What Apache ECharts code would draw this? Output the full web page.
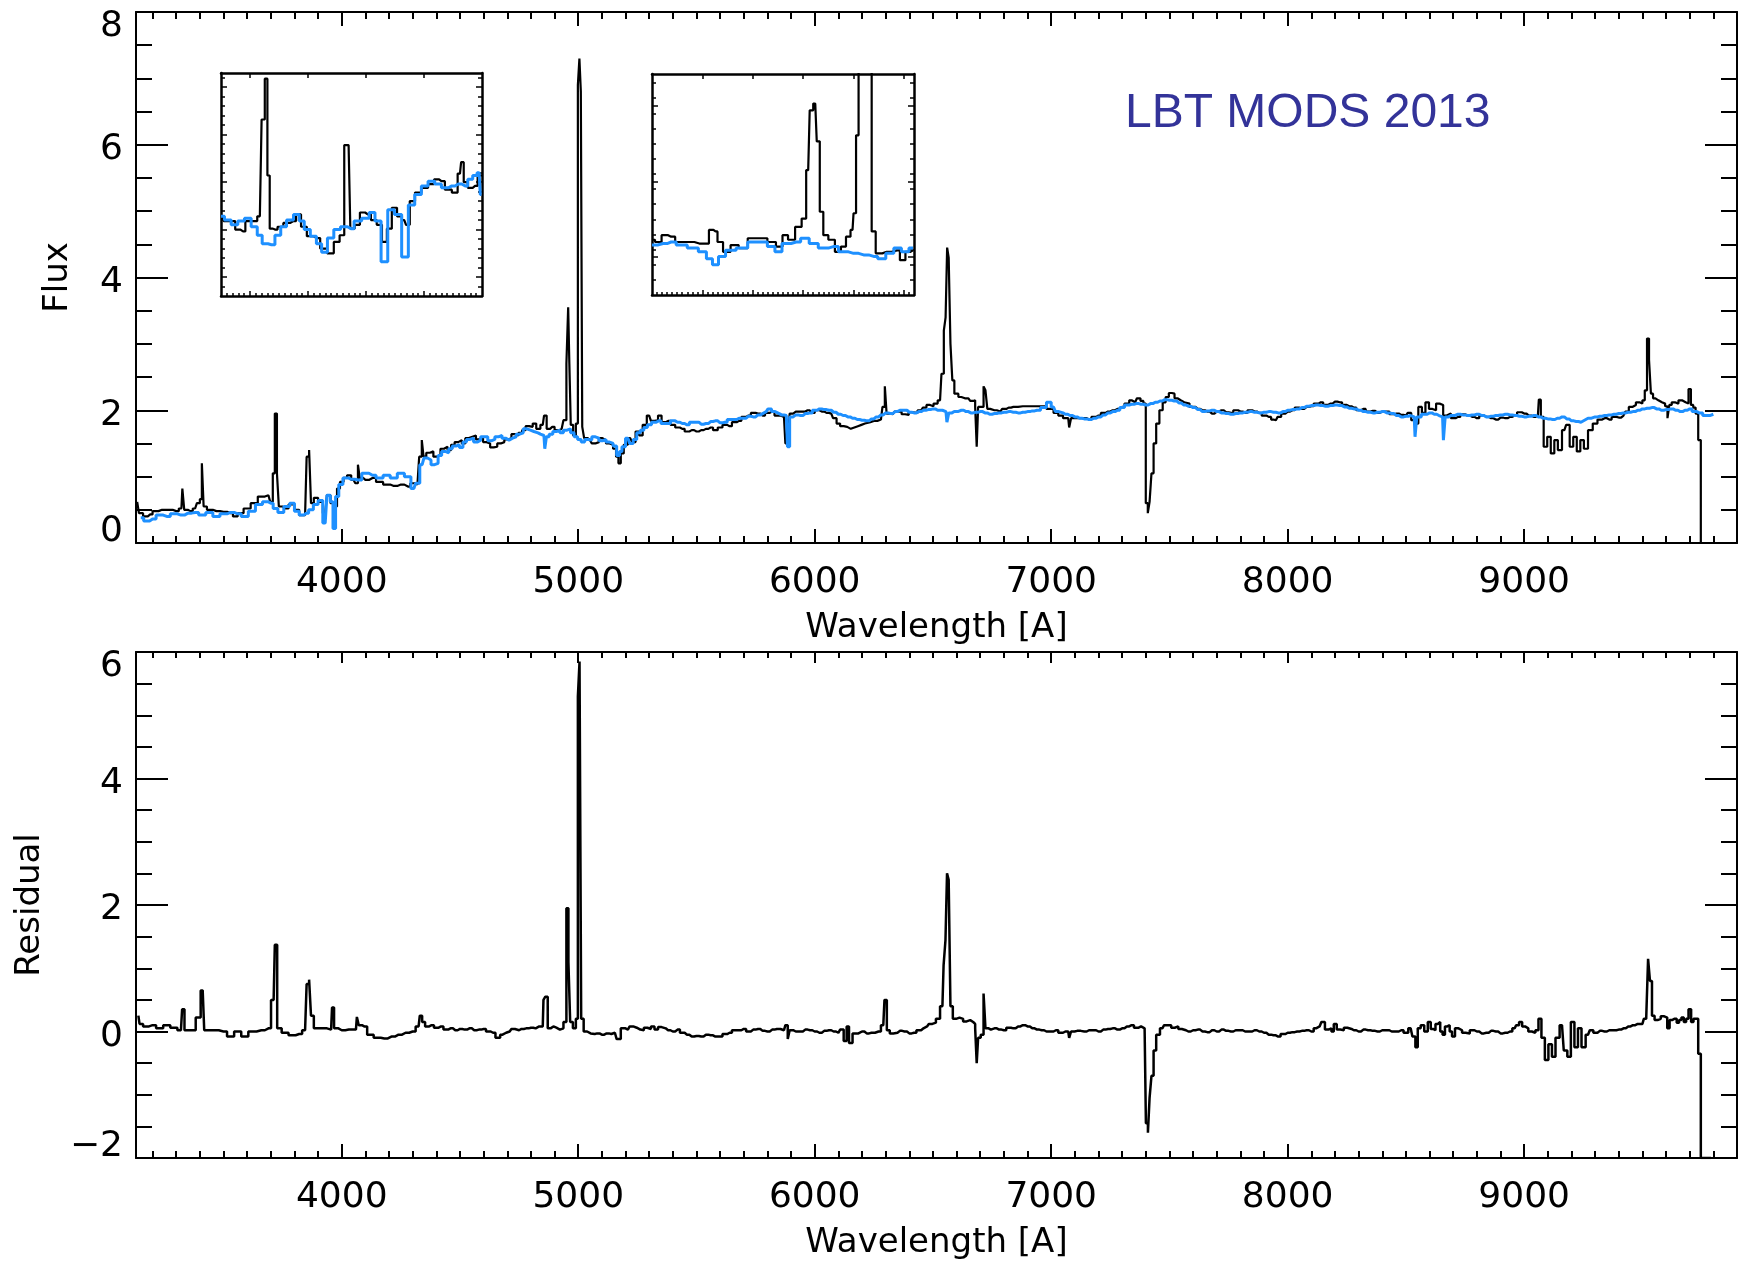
<!DOCTYPE html>
<html>
<head>
<meta charset="utf-8">
<script src="https://cdn.jsdelivr.net/npm/echarts@6/dist/echarts.min.js"></script>
<style>
  html, body { margin: 0; padding: 0; background: #fff; }
  #chart { width: 1749px; height: 1266px; }
</style>
</head>
<body>
<div id="chart"></div>
<script>
// ---- tick labels ----
const waveTicks = [4000, 5000, 6000, 7000, 8000, 9000];
const fluxTicks = [0, 2, 4, 6, 8];
const residualTicks = [-2, 0, 2, 4, 6];
const inset1WaveTicks = [3700, 3800, 3900, 4000];
const inset2WaveTicks = [4850, 4900, 4950, 5000, 5050];

// ---- observed spectrum [wavelength (A), flux] ----
const observedFlux = [
  [3135,0.62],[3150,0.45],[3170,0.40],[3190,0.43],[3210,0.48],[3240,0.50],[3270,0.50],[3300,0.48],
  [3322,0.52],[3330,0.82],[3338,0.50],[3360,0.48],[3380,0.52],[3395,0.60],[3405,0.66],[3412,1.20],
  [3420,0.55],[3440,0.50],[3470,0.48],[3500,0.47],[3530,0.45],[3550,0.40],[3570,0.45],[3600,0.52],
  [3630,0.60],[3660,0.70],[3690,0.72],[3705,0.62],[3712,1.05],[3722,1.95],[3730,1.05],[3738,0.55],
  [3760,0.52],[3790,0.58],[3810,0.50],[3830,0.42],[3845,0.42],[3858,1.30],[3866,1.40],[3874,0.60],
  [3890,0.68],[3910,0.62],[3930,0.45],[3945,0.72],[3960,0.60],[3975,0.55],[3985,0.82],[4000,0.92],
  [4015,0.98],[4030,1.02],[4050,0.95],[4065,0.90],[4072,1.18],[4080,0.98],[4100,0.95],[4130,0.98],
  [4160,0.92],[4190,0.88],[4220,0.86],[4250,0.88],[4280,0.85],[4300,0.90],[4320,0.88],[4335,1.30],
  [4342,1.55],[4350,1.30],[4365,1.36],[4380,1.38],[4395,1.30],[4410,1.32],[4425,1.42],[4440,1.45],
  [4455,1.40],[4470,1.48],[4485,1.52],[4500,1.55],[4515,1.50],[4530,1.58],[4545,1.60],[4560,1.62],
  [4575,1.56],[4590,1.58],[4605,1.52],[4620,1.50],[4635,1.44],[4650,1.45],[4665,1.50],[4680,1.52],
  [4695,1.56],[4710,1.58],[4725,1.64],[4740,1.62],[4755,1.66],[4770,1.70],[4785,1.76],[4800,1.75],
  [4815,1.80],[4830,1.72],[4850,1.78],[4861,1.92],[4872,1.72],[4890,1.75],[4910,1.70],[4930,1.72],
  [4945,1.85],[4955,2.70],[4960,3.55],[4965,2.70],[4972,1.78],[4985,1.62],[4995,1.80],[5002,6.90],
  [5008,7.30],[5014,6.80],[5020,1.75],[5030,1.58],[5050,1.55],[5065,1.50],[5080,1.52],[5095,1.58],
  [5110,1.55],[5125,1.50],[5140,1.48],[5155,1.42],[5165,1.30],[5175,1.20],[5185,1.35],[5200,1.48],
  [5220,1.58],[5235,1.52],[5250,1.68],[5265,1.62],[5280,1.78],[5300,1.92],[5315,1.84],[5330,1.85],
  [5345,1.92],[5360,1.82],[5380,1.84],[5400,1.78],[5420,1.74],[5440,1.72],[5460,1.68],[5480,1.70],
  [5500,1.68],[5520,1.70],[5540,1.72],[5560,1.74],[5580,1.70],[5600,1.74],[5620,1.78],[5640,1.76],
  [5660,1.82],[5680,1.84],[5700,1.90],[5720,1.92],[5740,1.96],[5760,1.95],[5780,1.92],[5800,1.96],
  [5820,1.98],[5840,1.92],[5870,1.90],[5882,1.50],[5890,1.52],[5898,1.95],[5920,1.98],[5950,1.98],
  [5970,2.00],[5990,1.96],[6010,2.00],[6030,1.98],[6050,1.96],[6070,1.95],[6085,1.88],[6100,1.80],
  [6115,1.76],[6130,1.75],[6145,1.72],[6160,1.74],[6175,1.76],[6190,1.78],[6205,1.80],[6220,1.82],
  [6250,1.84],[6280,1.86],[6293,2.05],[6300,2.36],[6308,1.95],[6330,1.94],[6345,1.98],[6360,1.98],
  [6375,1.94],[6390,1.93],[6405,1.97],[6420,1.96],[6450,2.00],[6465,2.04],[6480,2.08],[6495,2.06],
  [6510,2.10],[6530,2.15],[6542,2.55],[6550,3.20],[6557,3.40],[6563,4.45],[6570,4.30],[6578,3.00],
  [6586,2.45],[6595,2.25],[6620,2.20],[6635,2.18],[6650,2.18],[6665,2.14],[6675,2.15],[6682,2.05],
  [6688,1.45],[6694,2.05],[6710,2.05],[6718,2.36],[6726,2.30],[6734,2.02],[6750,2.00],[6770,2.00],
  [6785,1.98],[6800,2.02],[6820,2.04],[6840,2.05],[6880,2.06],[6920,2.06],[6960,2.06],[7000,2.02],
  [7020,1.96],[7040,1.92],[7060,1.88],[7072,1.88],[7080,1.74],[7088,1.88],[7110,1.88],[7140,1.88],
  [7160,1.86],[7180,1.90],[7200,1.92],[7220,1.96],[7240,1.98],[7260,2.00],[7280,2.02],[7300,2.05],
  [7320,2.10],[7340,2.15],[7355,2.12],[7370,2.18],[7385,2.14],[7395,2.10],[7405,0.60],[7412,0.45],
  [7420,0.62],[7428,1.05],[7438,1.50],[7450,1.80],[7465,2.00],[7478,2.12],[7490,2.20],[7505,2.26],
  [7515,2.25],[7528,2.18],[7540,2.15],[7555,2.12],[7570,2.10],[7600,2.05],[7620,2.02],[7640,2.00],
  [7660,1.98],[7680,1.95],[7700,1.98],[7720,2.00],[7740,1.97],[7760,1.96],[7780,2.00],[7800,1.98],
  [7820,1.96],[7840,2.00],[7860,1.98],[7880,1.96],[7900,1.92],[7920,1.90],[7940,1.86],[7950,1.85],
  [7965,1.90],[7980,1.95],[8000,1.98],[8020,2.00],[8040,2.04],[8060,2.02],[8080,2.05],[8100,2.06],
  [8120,2.10],[8140,2.12],[8160,2.08],[8180,2.10],[8200,2.13],[8220,2.12],[8240,2.08],[8260,2.06],
  [8280,2.04],[8300,2.00],[8320,2.02],[8340,1.98],[8360,1.99],[8380,1.96],[8400,1.98],[8420,1.98],
  [8440,1.94],[8460,1.95],[8480,1.93],[8500,1.92],[8515,1.96],[8530,1.85],[8545,1.80],[8560,2.05],
  [8575,1.96],[8590,2.12],[8605,2.02],[8620,2.00],[8635,2.10],[8650,2.08],[8665,1.92],[8680,1.95],
  [8700,1.88],[8720,1.90],[8740,1.94],[8760,1.92],[8780,1.90],[8800,1.88],[8820,1.92],[8840,1.90],
  [8860,1.88],[8880,1.86],[8900,1.89],[8920,1.88],[8940,1.90],[8960,1.92],[8980,1.97],[9000,1.95],
  [9020,1.92],[9040,1.90],[9058,1.92],[9066,2.16],[9075,1.90],[9090,1.45],[9105,1.60],[9120,1.35],
  [9135,1.55],[9150,1.40],[9170,1.70],[9185,1.78],[9200,1.45],[9215,1.60],[9230,1.38],[9245,1.55],
  [9260,1.42],[9280,1.70],[9300,1.80],[9320,1.86],[9340,1.88],[9360,1.86],[9380,1.90],[9400,1.89],
  [9420,1.92],[9435,1.98],[9450,2.05],[9465,2.08],[9480,2.12],[9495,2.10],[9505,2.15],[9515,2.30],
  [9524,3.08],[9532,2.76],[9540,2.25],[9550,2.18],[9560,2.15],[9575,2.12],[9590,2.10],[9602,2.06],
  [9610,1.88],[9618,2.08],[9630,2.12],[9645,2.10],[9660,2.15],[9675,2.12],[9690,2.10],[9700,2.32],
  [9710,2.08],[9720,2.04],[9730,1.95],[9742,1.55],[9752,0.00],[9800,0.00]
];

// ---- model spectrum [wavelength (A), flux] ----
const modelFlux = [
  [3150,0.38],[3175,0.33],[3200,0.36],[3230,0.42],[3260,0.40],[3290,0.44],[3320,0.42],[3350,0.45],
  [3380,0.46],[3410,0.42],[3440,0.46],[3470,0.40],[3500,0.44],[3530,0.46],[3560,0.44],[3590,0.40],
  [3620,0.48],[3650,0.58],[3680,0.62],[3700,0.60],[3720,0.52],[3740,0.46],[3770,0.55],[3790,0.60],
  [3810,0.48],[3830,0.42],[3850,0.45],[3870,0.50],[3890,0.58],[3910,0.64],[3930,0.30],[3945,0.72],
  [3958,0.62],[3968,0.22],[3980,0.70],[3995,0.88],[4015,0.98],[4040,0.96],[4070,0.95],[4100,1.05],
  [4130,1.02],[4160,0.98],[4190,1.02],[4220,0.98],[4250,1.05],[4280,1.00],[4305,0.82],[4320,0.90],
  [4340,1.18],[4355,1.28],[4370,1.25],[4385,1.18],[4400,1.20],[4415,1.32],[4430,1.38],[4445,1.36],
  [4460,1.42],[4475,1.46],[4490,1.48],[4505,1.44],[4520,1.52],[4535,1.56],[4550,1.58],[4565,1.52],
  [4580,1.55],[4595,1.60],[4610,1.60],[4625,1.54],[4640,1.56],[4655,1.60],[4670,1.62],[4685,1.58],
  [4700,1.55],[4715,1.58],[4730,1.60],[4745,1.64],[4760,1.66],[4775,1.72],[4790,1.70],[4805,1.68],
  [4820,1.66],[4840,1.64],[4855,1.62],[4862,1.42],[4869,1.60],[4885,1.64],[4900,1.68],[4915,1.70],
  [4930,1.66],[4945,1.70],[4960,1.72],[4975,1.66],[4990,1.60],[5005,1.56],[5020,1.52],[5035,1.56],
  [5050,1.55],[5065,1.60],[5080,1.58],[5095,1.54],[5110,1.56],[5125,1.52],[5140,1.50],[5155,1.46],
  [5170,1.32],[5180,1.38],[5190,1.45],[5210,1.58],[5225,1.50],[5240,1.56],[5255,1.66],[5270,1.70],
  [5285,1.74],[5300,1.78],[5320,1.82],[5340,1.84],[5360,1.80],[5380,1.80],[5400,1.84],[5420,1.82],
  [5440,1.80],[5460,1.78],[5480,1.82],[5500,1.82],[5520,1.79],[5540,1.80],[5560,1.83],[5580,1.84],
  [5600,1.81],[5620,1.82],[5640,1.86],[5660,1.86],[5680,1.88],[5700,1.88],[5720,1.91],[5740,1.90],
  [5760,1.93],[5780,1.95],[5795,1.98],[5810,2.02],[5825,1.98],[5840,1.95],[5860,1.93],[5880,1.92],
  [5890,1.45],[5898,1.90],[5920,1.93],[5940,1.92],[5960,1.95],[5980,1.96],[6000,2.00],[6020,2.02],
  [6040,2.01],[6060,2.00],[6080,1.97],[6100,1.94],[6120,1.92],[6140,1.90],[6160,1.88],[6180,1.86],
  [6200,1.85],[6220,1.84],[6240,1.87],[6260,1.90],[6280,1.93],[6300,1.96],[6320,1.95],[6340,1.98],
  [6360,2.00],[6380,2.00],[6400,1.97],[6420,1.96],[6440,1.98],[6460,2.00],[6480,2.01],[6500,2.02],
  [6520,2.00],[6540,2.00],[6555,1.98],[6563,1.82],[6571,1.96],[6590,1.98],[6620,2.00],[6640,1.98],
  [6660,1.96],[6680,1.97],[6700,1.98],[6720,1.96],[6740,1.94],[6760,1.95],[6780,1.96],[6800,1.97],
  [6820,1.98],[6840,1.97],[6860,1.96],[6880,1.97],[6900,1.98],[6920,1.99],[6940,2.00],[6970,2.04],
  [6990,2.12],[7010,2.05],[7025,1.98],[7040,1.96],[7060,1.94],[7080,1.92],[7100,1.90],[7120,1.88],
  [7140,1.87],[7160,1.86],[7180,1.88],[7200,1.90],[7220,1.93],[7240,1.96],[7260,1.98],[7280,2.00],
  [7300,2.04],[7320,2.08],[7340,2.09],[7360,2.10],[7380,2.09],[7400,2.08],[7420,2.10],[7440,2.12],
  [7460,2.14],[7480,2.16],[7500,2.15],[7520,2.14],[7540,2.11],[7560,2.08],[7580,2.06],[7600,2.04],
  [7620,2.01],[7640,1.98],[7660,1.99],[7680,2.00],[7700,1.98],[7720,1.96],[7740,1.95],[7760,1.94],
  [7780,1.95],[7800,1.96],[7820,1.97],[7840,1.98],[7860,1.97],[7880,1.96],[7900,1.97],[7920,1.98],
  [7940,1.97],[7960,1.96],[7980,1.98],[8000,2.00],[8020,2.01],[8040,2.02],[8060,2.04],[8080,2.06],
  [8100,2.07],[8120,2.08],[8140,2.07],[8160,2.06],[8180,2.07],[8200,2.08],[8220,2.07],[8240,2.05],
  [8260,2.03],[8280,2.02],[8300,2.00],[8320,1.98],[8340,1.97],[8360,1.96],[8380,1.97],[8400,1.98],
  [8420,1.96],[8440,1.95],[8460,1.92],[8480,1.90],[8500,1.91],[8520,1.92],[8535,1.90],[8542,1.60],
  [8550,1.90],[8580,1.94],[8600,1.96],[8620,1.94],[8640,1.92],[8655,1.90],[8662,1.55],[8670,1.90],
  [8690,1.92],[8720,1.94],[8740,1.93],[8760,1.92],[8780,1.93],[8800,1.94],[8820,1.92],[8840,1.90],
  [8860,1.91],[8880,1.92],[8900,1.93],[8920,1.94],[8940,1.93],[8960,1.92],[8980,1.91],[9000,1.90],
  [9020,1.91],[9040,1.92],[9060,1.90],[9080,1.88],[9100,1.87],[9120,1.86],[9140,1.88],[9160,1.90],
  [9180,1.87],[9200,1.84],[9220,1.83],[9240,1.82],[9255,1.85],[9270,1.88],[9300,1.90],[9320,1.91],
  [9340,1.92],[9360,1.93],[9380,1.94],[9400,1.95],[9420,1.96],[9440,1.97],[9460,1.98],[9480,2.00],
  [9500,2.02],[9520,2.03],[9540,2.04],[9560,2.02],[9580,2.00],[9600,2.01],[9620,2.02],[9640,2.00],
  [9660,1.98],[9680,2.00],[9700,2.02],[9720,1.98],[9740,1.96],[9770,1.92],[9800,1.94]
];

// ---- residual (observed - model) [wavelength (A), residual] ----
const residual = [
  [3140,0.25],[3150,0.12],[3170,0.08],[3200,0.10],[3230,0.05],[3260,0.10],[3290,0.06],[3320,0.02],
  [3330,0.35],[3340,0.02],[3370,0.02],[3395,0.22],[3412,0.65],[3425,0.02],[3460,0.02],[3500,0.00],
  [3530,-0.08],[3560,0.00],[3590,-0.08],[3620,0.00],[3660,0.02],[3690,0.05],[3712,0.50],[3722,1.37],
  [3732,0.05],[3760,-0.02],[3790,-0.06],[3820,-0.04],[3845,0.02],[3858,0.75],[3866,0.82],[3874,0.25],
  [3890,0.05],[3920,0.05],[3955,0.03],[3963,0.38],[3972,0.05],[4000,0.02],[4030,0.03],[4060,0.03],
  [4068,0.23],[4076,0.10],[4095,0.08],[4120,-0.05],[4150,-0.10],[4180,-0.11],[4210,-0.08],[4240,-0.05],
  [4270,-0.02],[4300,0.00],[4325,0.08],[4335,0.25],[4345,0.15],[4360,0.08],[4380,0.10],[4400,0.06],
  [4420,0.08],[4440,0.03],[4460,0.05],[4480,0.02],[4500,0.04],[4520,0.03],[4540,0.05],[4560,0.02],
  [4580,0.03],[4600,0.04],[4620,0.00],[4640,-0.02],[4660,-0.10],[4680,-0.05],[4695,-0.02],[4710,0.00],
  [4725,0.04],[4740,0.02],[4760,0.04],[4780,0.05],[4800,0.06],[4820,0.05],[4835,0.08],[4850,0.08],
  [4856,0.50],[4866,0.55],[4876,0.05],[4890,0.08],[4900,0.06],[4915,0.03],[4930,0.05],[4945,0.15],
  [4955,1.95],[4962,1.10],[4970,0.15],[4985,0.05],[4995,0.20],[5002,5.30],[5009,5.85],[5016,0.20],
  [5030,0.00],[5045,-0.03],[5060,-0.04],[5080,-0.03],[5100,-0.05],[5120,-0.03],[5140,-0.04],[5155,-0.02],
  [5170,-0.12],[5190,0.05],[5210,0.03],[5225,0.08],[5240,0.06],[5255,0.03],[5270,0.02],[5285,0.06],
  [5300,0.04],[5315,0.08],[5330,0.03],[5345,0.07],[5360,0.05],[5380,0.02],[5400,0.00],[5420,0.03],
  [5440,-0.02],[5460,-0.05],[5480,-0.08],[5500,-0.07],[5520,-0.08],[5540,-0.05],[5560,-0.06],[5580,-0.08],
  [5600,-0.08],[5620,-0.04],[5640,-0.02],[5660,0.02],[5680,0.02],[5700,0.04],[5720,0.00],[5740,0.03],
  [5760,0.04],[5780,0.01],[5800,0.00],[5820,0.03],[5840,0.04],[5870,0.02],[5882,0.10],[5890,-0.12],
  [5898,0.02],[5920,0.00],[5940,0.00],[5960,0.03],[5980,0.02],[6000,0.00],[6020,-0.02],[6040,0.01],
  [6060,0.02],[6080,0.00],[6100,-0.02],[6115,0.03],[6130,-0.15],[6140,0.08],[6150,-0.18],[6170,-0.03],
  [6200,0.00],[6220,-0.03],[6240,-0.02],[6270,0.00],[6290,0.10],[6300,0.50],[6310,0.02],[6325,-0.03],
  [6340,-0.02],[6360,0.01],[6380,0.00],[6400,-0.03],[6420,-0.02],[6440,0.02],[6460,0.05],[6475,0.08],
  [6490,0.12],[6505,0.14],[6520,0.20],[6540,0.40],[6550,1.05],[6556,1.45],[6563,2.50],[6570,2.40],
  [6578,0.40],[6590,0.20],[6605,0.22],[6620,0.20],[6635,0.16],[6650,0.18],[6665,0.15],[6675,0.12],
  [6682,0.05],[6688,-0.50],[6694,-0.10],[6710,-0.05],[6718,0.60],[6726,0.05],[6745,0.03],[6760,0.05],
  [6780,0.03],[6800,0.02],[6820,0.06],[6840,0.05],[6860,0.08],[6880,0.10],[6900,0.08],[6920,0.05],
  [6940,0.03],[6960,0.02],[6980,0.00],[7000,0.00],[7020,0.02],[7040,-0.02],[7060,0.00],[7072,0.00],
  [7080,-0.10],[7088,0.00],[7110,0.01],[7140,0.00],[7160,0.02],[7180,0.02],[7200,0.00],[7220,0.03],
  [7240,0.04],[7260,0.05],[7280,0.03],[7300,0.05],[7320,0.08],[7340,0.10],[7360,0.06],[7380,0.08],
  [7395,0.05],[7406,-1.45],[7412,-1.60],[7420,-1.05],[7428,-0.70],[7438,-0.30],[7450,-0.05],[7470,0.05],
  [7485,0.10],[7500,0.10],[7515,0.06],[7530,0.08],[7545,0.04],[7560,0.02],[7580,0.00],[7600,0.02],
  [7620,0.03],[7640,0.00],[7660,-0.01],[7680,0.02],[7700,0.00],[7720,0.03],[7740,0.01],[7760,0.00],
  [7780,0.02],[7800,0.02],[7820,0.00],[7840,0.00],[7860,0.02],[7880,0.00],[7900,-0.02],[7920,-0.05],
  [7940,-0.06],[7960,-0.08],[7980,-0.04],[8000,-0.02],[8020,-0.01],[8040,0.00],[8060,0.01],[8080,0.02],
  [8100,0.00],[8120,0.05],[8135,0.08],[8150,0.15],[8165,0.03],[8180,0.05],[8190,0.00],[8200,0.12],
  [8215,0.03],[8230,0.02],[8245,0.06],[8260,0.04],[8280,0.02],[8300,0.00],[8320,0.03],[8340,0.02],
  [8360,0.01],[8380,0.00],[8400,0.02],[8420,0.02],[8440,0.00],[8460,0.00],[8480,0.02],[8500,-0.02],
  [8520,0.05],[8535,-0.08],[8545,-0.25],[8555,0.05],[8570,0.10],[8585,0.00],[8600,0.15],[8610,0.04],
  [8620,0.02],[8630,0.12],[8640,0.15],[8650,0.00],[8660,-0.05],[8670,0.08],[8680,0.10],[8690,0.00],
  [8700,-0.08],[8715,0.05],[8730,0.02],[8745,-0.02],[8760,-0.03],[8780,0.02],[8800,0.00],[8820,-0.03],
  [8840,-0.02],[8860,0.01],[8880,0.00],[8900,-0.03],[8920,-0.02],[8940,0.00],[8960,0.05],[8972,0.10],
  [8985,0.15],[8998,0.08],[9010,0.05],[9025,0.00],[9040,-0.02],[9055,0.02],[9066,0.20],[9080,-0.10],
  [9095,-0.45],[9110,-0.20],[9125,-0.40],[9140,-0.10],[9160,0.10],[9175,-0.30],[9190,-0.40],[9205,0.15],
  [9220,-0.25],[9235,0.05],[9250,-0.25],[9270,-0.05],[9285,0.02],[9300,-0.02],[9320,0.01],[9340,0.00],
  [9360,0.02],[9380,0.02],[9400,0.03],[9420,0.05],[9440,0.08],[9460,0.10],[9480,0.12],[9500,0.12],
  [9512,0.20],[9520,0.20],[9528,1.15],[9536,0.80],[9545,0.25],[9558,0.18],[9570,0.20],[9585,0.24],
  [9600,0.22],[9610,0.05],[9620,0.18],[9630,0.20],[9640,0.20],[9650,0.14],[9660,0.18],[9670,0.22],
  [9680,0.15],[9690,0.20],[9700,0.35],[9712,0.15],[9720,0.20],[9730,0.20],[9742,-0.35],[9752,-2.00],
  [9790,-2.00]
];

// ---- zoom panel: [OII] / [NeIII] region ----
const inset1Observed = [
  [3650,0.62],[3659,0.59],[3670,0.59],[3679,0.50],[3688,0.48],[3696,0.59],[3708,0.59],[3717,0.64],
  [3723,1.66],[3728,2.09],[3732,1.07],[3736,0.51],[3743,0.50],[3752,0.53],[3763,0.57],[3775,0.59],
  [3784,0.66],[3792,0.53],[3804,0.43],[3815,0.41],[3827,0.30],[3839,0.25],[3850,0.37],[3859,0.44],
  [3866,1.39],[3870,1.39],[3876,0.51],[3885,0.55],[3894,0.68],[3903,0.66],[3914,0.60],[3923,0.55],
  [3932,0.37],[3940,0.51],[3949,0.73],[3958,0.64],[3966,0.60],[3972,0.55],[3979,0.80],[3990,0.89],
  [4001,0.94],[4013,0.98],[4022,1.03],[4030,1.01],[4042,0.92],[4054,0.89],[4062,1.09],[4066,1.21],
  [4071,1.00],[4080,0.94],[4088,0.96],[4097,1.07],[4100,1.07]
];
const inset1Model = [
  [3650,0.64],[3662,0.60],[3673,0.55],[3685,0.59],[3696,0.62],[3708,0.53],[3717,0.44],[3725,0.35],
  [3737,0.34],[3749,0.44],[3757,0.53],[3769,0.60],[3781,0.66],[3789,0.59],[3798,0.50],[3810,0.43],
  [3819,0.35],[3828,0.26],[3839,0.41],[3850,0.50],[3862,0.53],[3874,0.51],[3885,0.59],[3900,0.62],
  [3911,0.68],[3920,0.59],[3932,0.16],[3943,0.71],[3955,0.66],[3968,0.21],[3978,0.76],[3990,0.87],
  [4001,0.96],[4013,1.01],[4024,0.98],[4036,0.94],[4048,0.96],[4059,0.98],[4071,0.96],[4080,1.03],
  [4088,1.07],[4095,1.10],[4099,0.87]
];

// ---- zoom panel: Hbeta / [OIII] region ----
const inset2Observed = [
  [4800,1.73],[4806,1.70],[4813,1.79],[4819,1.77],[4827,1.70],[4837,1.70],[4847,1.68],[4854,1.68],
  [4859,1.86],[4863,1.84],[4867,1.70],[4874,1.57],[4882,1.66],[4890,1.62],[4900,1.75],[4910,1.75],
  [4919,1.70],[4927,1.64],[4932,1.79],[4938,1.73],[4946,1.90],[4951,2.01],[4955,2.65],[4958,3.44],
  [4962,3.53],[4965,3.03],[4968,2.10],[4972,1.79],[4978,1.73],[4985,1.57],[4990,1.64],[4995,1.77],
  [4999,1.86],[5001,2.08],[5004,3.11],[5006,7.30],[5010,7.30],[5013,7.00],[5016,6.50],[5020,1.84],
  [5024,1.55],[5033,1.57],[5043,1.59],[5049,1.46],[5054,1.57],[5059,1.59]
];
const inset2Model = [
  [4800,1.66],[4811,1.68],[4819,1.70],[4829,1.66],[4841,1.62],[4851,1.57],[4857,1.48],[4863,1.40],
  [4869,1.51],[4877,1.59],[4890,1.62],[4900,1.70],[4910,1.70],[4919,1.64],[4925,1.57],[4933,1.68],
  [4943,1.70],[4952,1.75],[4960,1.68],[4970,1.62],[4980,1.64],[4990,1.57],[5000,1.55],[5010,1.53],
  [5020,1.51],[5028,1.48],[5036,1.55],[5044,1.62],[5051,1.57],[5059,1.62]
];

// evenly spaced tick positions
function ticks(start, stop, step) {
  const out = [];
  for (let i = 0; start + i * step <= stop + 1e-9; i++) out.push(Math.round((start + i * step) * 1000) / 1000);
  return out;
}

const FONT = 'DejaVu Sans';
const BLUE = '#1E90FF';
const fmt = v => (v < 0 ? '\u2212' + Math.abs(v) : String(v));
const labelFont = { color: '#000', fontFamily: FONT, fontSize: 36 };

const xAxes = [];
const yAxes = [];

// Builds a boxed frame with inward ticks on all four sides; returns the primary axis indices
function addFrame(g, c) {
  const xi = xAxes.length, yi = yAxes.length;
  const xSpecs = [
    ['bottom', c.xMajor, c.xMajorLen, true],
    ['bottom', c.xMinor, c.xMinorLen, false],
    ['top', c.xTopMajor || c.xMajor, c.xTopMajorLen || c.xMajorLen, false],
    ['top', c.xTopMinor || c.xMinor, c.xTopMinorLen || c.xMinorLen, false]
  ];
  xSpecs.forEach(([pos, vals, len, primary], k) => {
    const ax = {
      type: 'value', gridIndex: g, position: pos, min: c.xMin, max: c.xMax,
      splitLine: { show: false },
      axisLine: { show: k === 0 || k === 2, onZero: false, lineStyle: { color: '#000', width: c.lw } },
      axisTick: { show: vals.length > 0, inside: true, length: len, customValues: vals, lineStyle: { color: '#000', width: c.tw } },
      axisLabel: { show: false }
    };
    if (primary && c.xLabels) {
      ax.axisLabel = Object.assign({ show: true, customValues: c.xLabels, margin: 22, formatter: fmt }, labelFont);
      ax.name = c.xName;
      ax.nameLocation = 'middle';
      ax.nameGap = 68;
      ax.nameTextStyle = { color: '#000', fontFamily: FONT, fontSize: 34 };
    }
    xAxes.push(ax);
  });
  const ySpecs = [
    ['left', c.yMajor, c.yMajorLen, true],
    ['left', c.yMinor, c.yMinorLen, false],
    ['right', c.yMajor, c.yMajorLen, false],
    ['right', c.yMinor, c.yMinorLen, false]
  ];
  ySpecs.forEach(([pos, vals, len, primary], k) => {
    const ax = {
      type: 'value', gridIndex: g, position: pos, min: c.yMin, max: c.yMax,
      splitLine: { show: false },
      axisLine: { show: k === 0 || k === 2, onZero: false, lineStyle: { color: '#000', width: c.lw } },
      axisTick: { show: vals.length > 0, inside: true, length: len, customValues: vals, lineStyle: { color: '#000', width: c.tw } },
      axisLabel: { show: false }
    };
    if (primary && c.yLabels) {
      // end labels sit inside the frame, the rest slightly below their tick
      ax.axisLabel = Object.assign({
        show: true, customValues: c.yLabels, margin: 13,
        formatter: v => {
          const key = v === c.yMax ? 'hi' : (v === c.yMin ? 'lo' : 'mid');
          return '{' + key + '|' + fmt(v) + '}';
        },
        rich: {
          hi: Object.assign({ padding: [30, 0, 0, 0] }, labelFont),
          lo: Object.assign({ padding: [0, 0, 23, 0] }, labelFont),
          mid: Object.assign({ padding: [10, 0, 0, 0] }, labelFont)
        }
      }, labelFont);
      ax.name = c.yName;
      ax.nameLocation = 'middle';
      ax.nameGap = c.yNameGap;
      ax.nameTextStyle = { color: '#000', fontFamily: FONT, fontSize: 34 };
    }
    yAxes.push(ax);
  });
  return { xi, yi };
}

const grids = [
  { left: 136, top: 12, width: 1601, height: 531 },   // flux
  { left: 136, top: 652, width: 1601, height: 506 },  // residual
  { left: 221, top: 73, width: 261, height: 223 },    // zoom [OII]
  { left: 652, top: 74, width: 262, height: 221 }     // zoom [OIII]
];

const fluxAx = addFrame(0, {
  xMin: 3130, xMax: 9900, yMin: 0, yMax: 8, lw: 2, tw: 2,
  xMajor: waveTicks, xMinor: ticks(3200, 9800, 100), xMajorLen: 14, xMinorLen: 7,
  yMajor: fluxTicks, yMinor: ticks(0.5, 7.5, 0.5), yMajorLen: 32, yMinorLen: 16,
  xLabels: waveTicks, xName: 'Wavelength [A]',
  yLabels: fluxTicks, yName: 'Flux', yNameGap: 61
});
const residAx = addFrame(1, {
  xMin: 3130, xMax: 9900, yMin: -2, yMax: 6, lw: 2, tw: 2,
  xMajor: waveTicks, xMinor: ticks(3200, 9800, 100), xMajorLen: 14, xMinorLen: 7, xTopMajorLen: 11, xTopMinorLen: 6,
  yMajor: residualTicks, yMinor: ticks(-1.5, 5.5, 0.5), yMajorLen: 32, yMinorLen: 16,
  xLabels: waveTicks, xName: 'Wavelength [A]',
  yLabels: residualTicks, yName: 'Residual', yNameGap: 89
});
const in1Ax = addFrame(2, {
  xMin: 3650, xMax: 4100, yMin: -0.2, yMax: 2.15, lw: 2.5, tw: 1.5,
  xMajor: inset1WaveTicks, xMinor: ticks(3660, 4090, 10), xMajorLen: 5, xMinorLen: 3, xTopMinor: [],
  yMajor: ticks(0, 2, 0.5), yMinor: ticks(-0.1, 2.1, 0.1), yMajorLen: 6, yMinorLen: 4
});
const in2Ax = addFrame(3, {
  xMin: 4800, xMax: 5060, yMin: 1.0, yMax: 3.92, lw: 2.5, tw: 1.5,
  xMajor: inset2WaveTicks, xMinor: ticks(4805, 5055, 5), xMajorLen: 5, xMinorLen: 3, xTopMinor: [],
  yMajor: ticks(1.5, 3.5, 1), yMinor: ticks(1.2, 3.8, 0.2), yMajorLen: 6, yMinorLen: 4
});

function spectrum(data, ax, color, width) {
  return {
    type: 'line', data, xAxisIndex: ax.xi, yAxisIndex: ax.yi,
    step: 'middle', showSymbol: false, symbol: 'none', clip: true, silent: true,
    lineStyle: { color, width }
  };
}

const chart = echarts.init(document.getElementById('chart'), null, { renderer: 'canvas' });
chart.setOption({
  animation: false,
  backgroundColor: '#fff',
  title: {
    text: 'LBT MODS 2013', left: 1120, top: 85,
    textStyle: { color: '#333399', fontFamily: 'Liberation Sans', fontSize: 48, fontWeight: 'normal' }
  },
  grid: grids,
  xAxis: xAxes,
  yAxis: yAxes,
  series: [
    spectrum(observedFlux, fluxAx, '#000', 2.2),
    spectrum(modelFlux, fluxAx, BLUE, 3),
    spectrum(residual, residAx, '#000', 2.5),
    spectrum(inset1Observed, in1Ax, '#000', 2.2),
    spectrum(inset1Model, in1Ax, BLUE, 3),
    spectrum(inset2Observed, in2Ax, '#000', 2.2),
    spectrum(inset2Model, in2Ax, BLUE, 3)
  ]
});
</script>
</body>
</html>
